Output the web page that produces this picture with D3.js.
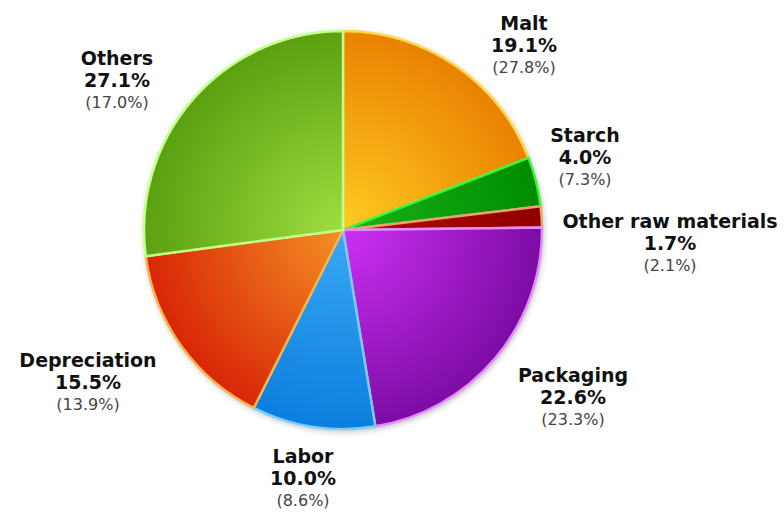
<!DOCTYPE html>
<html>
<head>
<meta charset="utf-8">
<script src="https://cdn.jsdelivr.net/npm/d3@7"></script>
<style>
  html, body { margin: 0; padding: 0; background: #fff; }
  svg { display: block; }
</style>
</head>
<body>
<svg id="chart" width="784" height="513"></svg>
<script>
// Cost structure: share of costs, with prior-period share in brackets
const categories = ["Malt", "Starch", "Other raw materials", "Packaging", "Labor", "Depreciation", "Others"];
const shares     = [19.1, 4.0, 1.7, 22.6, 10.0, 15.5, 27.1];
const priorShares = [27.8, 7.3, 2.1, 23.3, 8.6, 13.9, 17.0];

// slice fills: inner (near centre) colour, outer colour, edge colour
const innerColors = ["#ffcc22", "#18b418", "#b80a04", "#cc30f4", "#3aa8f4", "#f49024", "#9ede40"];
const outerColors = ["#ea8200", "#008c00", "#8e0000", "#7c0ca4", "#0c7ede", "#d82606", "#5aa010"];
const edgeColors  = ["#ffd84a", "#3cf43c", "#f0a070", "#e48cff", "#78ccff", "#f6b44a", "#c4ff8a"];

const svg = d3.select("#chart");
const cx = 343, cy = 230, R = 199;

const defs = svg.append("defs");
const shadow = defs.append("filter").attr("id", "pieShadow")
  .attr("x", "-20%").attr("y", "-20%").attr("width", "140%").attr("height", "140%");
shadow.append("feDropShadow").attr("dx", 1).attr("dy", 2)
  .attr("stdDeviation", 3).attr("flood-color", "#000").attr("flood-opacity", 0.3);

categories.forEach((c, i) => {
  const g = defs.append("radialGradient").attr("id", "grad" + i)
    .attr("gradientUnits", "userSpaceOnUse")
    .attr("cx", 0).attr("cy", 0).attr("r", R);
  g.append("stop").attr("offset", "0%").attr("stop-color", innerColors[i]);
  g.append("stop").attr("offset", "100%").attr("stop-color", outerColors[i]);
});

const data = categories.map((c, i) => ({ name: c, value: shares[i], prior: priorShares[i], i }));
const pie = d3.pie().value(d => d.value).sort(null);
const arc = d3.arc().innerRadius(0).outerRadius(R);

const pieG = svg.append("g").attr("transform", `translate(${cx},${cy})`);
pieG.append("circle").attr("r", R).attr("fill", "#fff").attr("filter", "url(#pieShadow)");
pieG.selectAll("path.slice").data(pie(data)).join("path")
  .attr("class", "slice")
  .attr("d", arc)
  .attr("fill", d => `url(#grad${d.data.i})`)
  .attr("stroke", d => edgeColors[d.data.i])
  .attr("stroke-width", 2.5)
  .attr("stroke-linejoin", "round");

// label placement: centre x and first baseline for each category
const labelPos = {
  "Malt": [524, 30],
  "Starch": [585, 142],
  "Other raw materials": [670, 228],
  "Packaging": [573, 382],
  "Labor": [303, 463],
  "Depreciation": [88, 367],
  "Others": [117, 65]
};

const fmt = v => v.toFixed(1) + "%";
const labels = svg.append("g").attr("font-family", "'DejaVu Sans', sans-serif")
  .attr("text-anchor", "middle");
data.forEach(d => {
  const [x, y] = labelPos[d.name];
  const t = labels.append("g").attr("transform", `translate(${x},${y})`);
  t.append("text").attr("y", 0).attr("font-size", 19).attr("font-weight", "bold")
    .attr("fill", "#111").text(d.name);
  t.append("text").attr("y", 22).attr("font-size", 19).attr("font-weight", "bold")
    .attr("fill", "#111").text(fmt(d.value));
  t.append("text").attr("y", 43).attr("font-size", 16)
    .attr("fill", "#444").text("(" + fmt(d.prior) + ")");
});
</script>
</body>
</html>
